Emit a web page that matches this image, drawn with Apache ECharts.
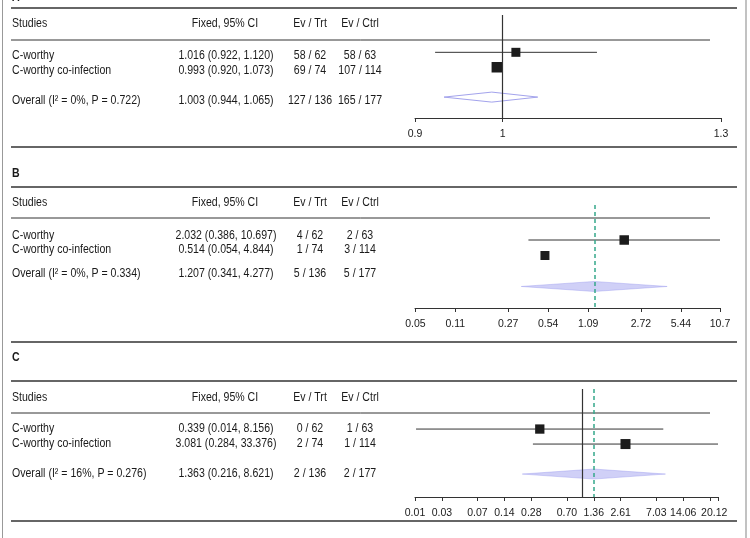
<!DOCTYPE html>
<html>
<head>
<meta charset="utf-8">
<script src="https://cdn.jsdelivr.net/npm/echarts@6/dist/echarts.min.js"></script>
<style>
  html, body { margin: 0; padding: 0; background: #fff; }
  #chart { width: 750px; height: 538px; }
</style>
</head>
<body>
<div id="chart"></div>
<script>
const studies = ["C-worthy", "C-worthy co-infection"];

// panel A
const estA = [1.016, 0.993];
const loA = [0.922, 0.920];
const hiA = [1.120, 1.073];
const evTrtA = [58, 69];
const nTrtA = [62, 74];
const evCtrlA = [58, 107];
const nCtrlA = [63, 114];
const overallA = [1.003, 0.944, 1.065];
const totalsA = [127, 136, 165, 177];
const hetA = [0, 0.722];
const diamondA = [0.932, 0.987, 1.043]; // as drawn in the picture
const ticksA = [0.9, 1, 1.3];
const labelAtA = [0.9, 1, 1.3];
const tickLabelsA = ["0.9", "1", "1.3"];
const rangeA = [0.9, 1.3];

// panel B
const estB = [2.032, 0.514];
const loB = [0.386, 0.054];
const hiB = [10.697, 4.844];
const evTrtB = [4, 1];
const nTrtB = [62, 74];
const evCtrlB = [2, 3];
const nCtrlB = [63, 114];
const overallB = [1.207, 0.341, 4.277];
const totalsB = [5, 136, 5, 177];
const hetB = [0, 0.334];
const diamondB = [0.341, 1.207, 4.277];
const ticksB = [0.0544, 0.1087, 0.2718, 0.5437, 1.087, 2.718, 5.437, 10.697];
const labelAtB = [0.0544, 0.1087, 0.2718, 0.5437, 1.087, 2.718, 5.437, 10.697];
const tickLabelsB = ["0.05", "0.11", "0.27", "0.54", "1.09", "2.72", "5.44", "10.7"];
const rangeB = [0.054, 10.697];

// panel C
const estC = [0.339, 3.081];
const loC = [0.014, 0.284];
const hiC = [8.156, 33.376];
const evTrtC = [0, 2];
const nTrtC = [62, 74];
const evCtrlC = [1, 1];
const nCtrlC = [63, 114];
const overallC = [1.363, 0.216, 8.621];
const totalsC = [2, 136, 2, 177];
const hetC = [16, 0.276];
const diamondC = [0.216, 1.363, 8.621];
const ticksC = [0.01363, 0.02726, 0.06815, 0.1363, 0.2726, 0.6815, 1.363, 2.726, 6.815, 13.63, 27.26, 33.376];
const labelAtC = [0.01363, 0.02726, 0.06815, 0.1363, 0.2726, 0.6815, 1.363, 2.726, 6.815, 13.63, 30.3];
const tickLabelsC = ["0.01", "0.03", "0.07", "0.14", "0.28", "0.70", "1.36", "2.61", "7.03", "14.06", "20.12"];
const rangeC = [0.01363, 33.376];

const FONT = "Liberation Sans, Arial, sans-serif";
const TXT = "#1a1a1a";
const ln = Math.log;

const panels = [
  {
    name: "A", est: estA, lo: loA, hi: hiA, evTrt: evTrtA, nTrt: nTrtA, evCtrl: evCtrlA, nCtrl: nCtrlA,
    overall: overallA, totals: totalsA, het: hetA, diamond: diamondA, ticks: ticksA, labelAt: labelAtA, tickLabels: tickLabelsA, range: rangeA,
    showCI: [true, false], boxSize: [9, 10.5], refLine: true, dashLine: false, filled: false,
    labelY: -2, topRule: 8, headerY: 24, headRule: 40, rowY: [55.6, 71], overallY: 100.5, bottomRule: 147,
    gridTop: 15, gridH: 103, gridW: 306, yMin: -1.5, yMax: 5.4
  },
  {
    name: "B", est: estB, lo: loB, hi: hiB, evTrt: evTrtB, nTrt: nTrtB, evCtrl: evCtrlB, nCtrl: nCtrlB,
    overall: overallB, totals: totalsB, het: hetB, diamond: diamondB, ticks: ticksB, labelAt: labelAtB, tickLabels: tickLabelsB, range: rangeB,
    showCI: [true, false], boxSize: [9.5, 9], refLine: false, dashLine: true, filled: true,
    labelY: 174, topRule: 187, headerY: 203, headRule: 218, rowY: [236, 249.5], overallY: 273.5, bottomRule: 342,
    gridTop: 205, gridH: 103, gridW: 305, yMin: -1.26, yMax: 5.39
  },
  {
    name: "C", est: estC, lo: loC, hi: hiC, evTrt: evTrtC, nTrt: nTrtC, evCtrl: evCtrlC, nCtrl: nCtrlC,
    overall: overallC, totals: totalsC, het: hetC, diamond: diamondC, ticks: ticksC, labelAt: labelAtC, tickLabels: tickLabelsC, range: rangeC,
    showCI: [true, true], boxSize: [9.3, 10], refLine: true, dashLine: true, filled: true,
    labelY: 358, topRule: 381, headerY: 398, headRule: 413, rowY: [429, 444], overallY: 474, bottomRule: 521,
    gridTop: 389, gridH: 108, gridW: 303, yMin: -1.67, yMax: 5.53
  }
];

function txt(x, y, text, align, bold) {
  return {
    type: "text", x: x, y: y, scaleX: 0.88, silent: true,
    style: {
      text: text, fill: TXT, fontSize: 12, fontFamily: FONT, fontWeight: bold ? "bold" : "normal",
      textAlign: align, textVerticalAlign: "middle"
    }
  };
}
function rule(y, x2, w) {
  return { type: "line", silent: true, shape: { x1: 11, y1: y, x2: x2, y2: y }, style: { stroke: "#333", lineWidth: w } };
}
const ci = (e, l, h) => e.toFixed(3) + " (" + l.toFixed(3) + ", " + h.toFixed(3) + ")";

const graphics = [
  { type: "line", silent: true, shape: { x1: 2.5, y1: 0, x2: 2.5, y2: 538 }, style: { stroke: "#999", lineWidth: 1 } },
  { type: "line", silent: true, shape: { x1: 746, y1: 0, x2: 746, y2: 538 }, style: { stroke: "#999", lineWidth: 1.2 } }
];
const grids = [], xAxes = [], yAxes = [], series = [];

panels.forEach((p, i) => {
  graphics.push(txt(12, p.labelY, p.name, "left", true));
  graphics.push(rule(p.topRule, 737, 1.6));
  graphics.push(rule(p.headRule, 710, 1));
  graphics.push(rule(p.bottomRule, 737, 1.6));
  graphics.push(txt(12, p.headerY, "Studies", "left"));
  graphics.push(txt(225, p.headerY, "Fixed, 95% CI", "center"));
  graphics.push(txt(310, p.headerY, "Ev / Trt", "center"));
  graphics.push(txt(360, p.headerY, "Ev / Ctrl", "center"));
  studies.forEach((s, k) => {
    const y = p.rowY[k];
    graphics.push(txt(12, y, s, "left"));
    graphics.push(txt(226, y, ci(p.est[k], p.lo[k], p.hi[k]), "center"));
    graphics.push(txt(310, y, p.evTrt[k] + " / " + p.nTrt[k], "center"));
    graphics.push(txt(360, y, p.evCtrl[k] + " / " + p.nCtrl[k], "center"));
  });
  graphics.push(txt(12, p.overallY, "Overall (I\u00b2 = " + p.het[0] + "%, P = " + p.het[1].toFixed(3) + ")", "left"));
  graphics.push(txt(226, p.overallY, ci(p.overall[0], p.overall[1], p.overall[2]), "center"));
  graphics.push(txt(310, p.overallY, p.totals[0] + " / " + p.totals[1], "center"));
  graphics.push(txt(360, p.overallY, p.totals[2] + " / " + p.totals[3], "center"));

  grids.push({ left: 415, top: p.gridTop, width: p.gridW, height: p.gridH, outerBoundsMode: "none" });
  const lnTicks = p.ticks.map(ln);
  const lnLabels = p.labelAt.map(ln);
  xAxes.push({
    gridIndex: i, type: "value", min: ln(p.range[0]), max: ln(p.range[1]),
    splitLine: { show: false },
    axisLine: { onZero: false, lineStyle: { color: "#333", width: 1 } },
    axisTick: { customValues: lnTicks, length: 4, lineStyle: { color: "#333" } },
    axisLabel: {
      customValues: lnLabels, margin: 11, color: TXT, fontSize: 10.5, fontFamily: FONT,
      formatter: (v) => {
        const k = lnLabels.findIndex((t) => Math.abs(t - v) < 1e-3);
        return k >= 0 ? p.tickLabels[k] : "";
      }
    }
  });
  yAxes.push({ gridIndex: i, type: "value", inverse: true, min: p.yMin, max: p.yMax, show: false });

  const marks = [];
  if (p.refLine) marks.push({ xAxis: ln(1), lineStyle: { color: "#333", width: 1.2, type: "solid" } });
  if (p.dashLine) marks.push({ xAxis: ln(p.overall[0]), lineStyle: { color: "#35a88a", width: 1.5, type: [4, 3] } });

  series.push({
    type: "custom", xAxisIndex: i, yAxisIndex: i, silent: true, z: 2,
    data: studies.map((s, k) => [ln(p.lo[k]), ln(p.hi[k]), k + 1]).filter((d, k) => p.showCI[k]),
    renderItem: (params, api) => {
      const a = api.coord([api.value(0), api.value(2)]);
      const b = api.coord([api.value(1), api.value(2)]);
      return { type: "line", shape: { x1: a[0], y1: a[1], x2: b[0], y2: b[1] }, style: { stroke: "#333", lineWidth: 1 } };
    }
  });
  series.push({
    type: "scatter", xAxisIndex: i, yAxisIndex: i, silent: true, z: 4, symbol: "rect",
    data: studies.map((s, k) => ({ value: [ln(p.est[k]), k + 1], symbolSize: p.boxSize[k] })),
    itemStyle: { color: "#1c1c1c", opacity: 1 },
    markLine: { silent: true, symbol: "none", label: { show: false }, data: marks, animation: false }
  });
  series.push({
    type: "custom", xAxisIndex: i, yAxisIndex: i, silent: true, z: 3,
    data: [[ln(p.diamond[0]), ln(p.diamond[1]), ln(p.diamond[2]), 4]],
    renderItem: (params, api) => {
      const y = api.value(3);
      const l = api.coord([api.value(0), y]);
      const m = api.coord([api.value(1), y]);
      const r = api.coord([api.value(2), y]);
      const h = 5;
      return {
        type: "polygon",
        shape: { points: [[l[0], l[1]], [m[0], m[1] - h], [r[0], r[1]], [m[0], m[1] + h]] },
        style: p.filled
          ? { fill: "rgba(150,150,238,0.45)", stroke: "rgba(150,150,238,0.5)", lineWidth: 0.8 }
          : { fill: "none", stroke: "#a3a3ec", lineWidth: 1 }
      };
    }
  });
});

const chart = echarts.init(document.getElementById("chart"), null, { renderer: "canvas" });
chart.setOption({
  animation: false,
  backgroundColor: "#fff",
  grid: grids,
  xAxis: xAxes,
  yAxis: yAxes,
  series: series,
  graphic: { elements: graphics }
});
window.addEventListener("resize", () => chart.resize());
</script>
</body>
</html>
